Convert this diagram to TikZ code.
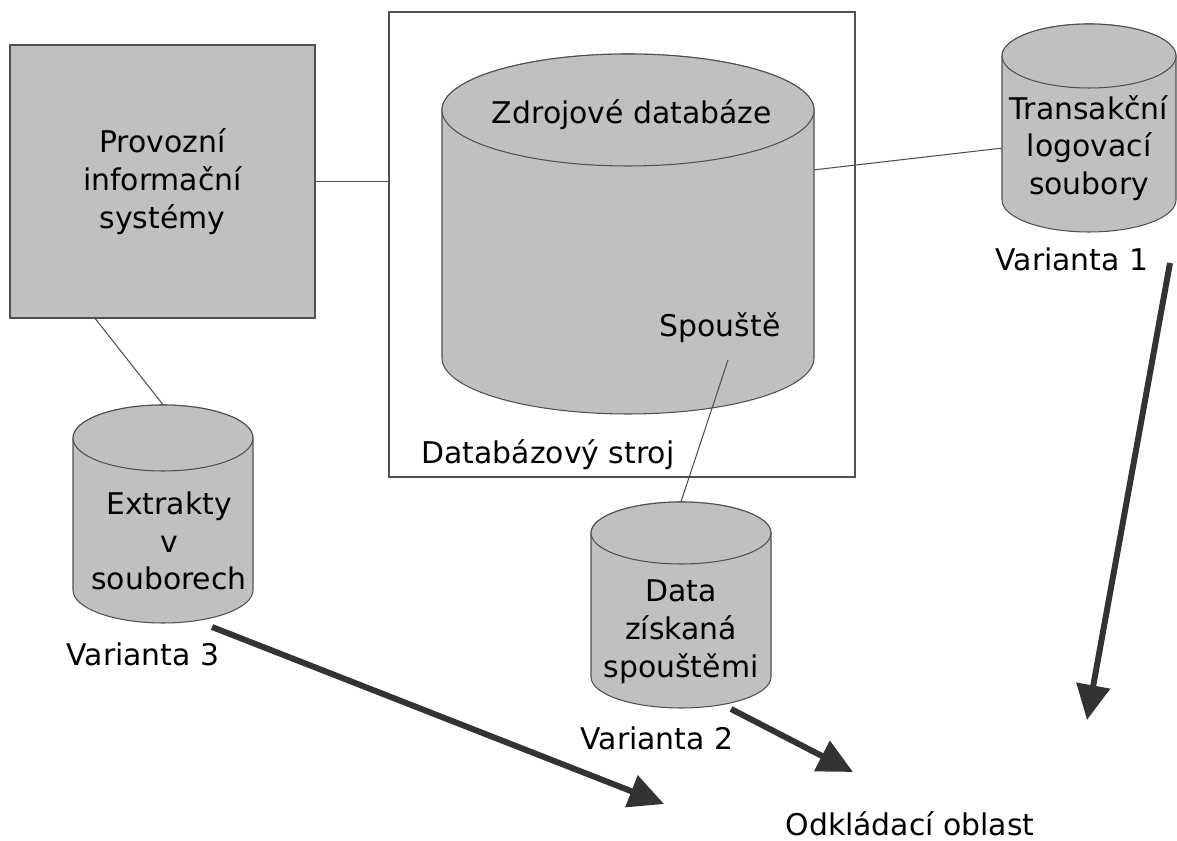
\documentclass[tikz,border=0pt]{standalone}
\usepackage{fontspec}
\setmainfont{DejaVu Sans}
\usetikzlibrary{arrows.meta}

\definecolor{boxgray}{HTML}{C0C0C0}
\definecolor{edgegray}{HTML}{505050}
\definecolor{arrowgray}{HTML}{333333}

\tikzset{
  lbl/.style={font=\fontsize{17}{21.5}\selectfont, align=center, inner sep=0pt},
  link/.style={draw=edgegray, line width=0.6pt},
  flow/.style={draw=arrowgray, line width=3.4pt,
    -{Triangle[length=0.7cm, width=0.66cm]}},
  dbbody/.style={fill=boxgray, draw=edgegray, line width=0.6pt}
}

% cylinder: name, centre x, top y, bottom y, x radius, y radius
\newcommand{\dbcyl}[6]{
  \filldraw[dbbody] (#2-#5,#3) -- (#2-#5,#4)
    arc[start angle=180, end angle=360, x radius=#5, y radius=#6]
    -- (#2+#5,#3)
    arc[start angle=0, end angle=180, x radius=#5, y radius=#6] -- cycle;
  \draw[dbbody] (#2,#3) ellipse[x radius=#5, y radius=#6];
  \node[inner sep=0pt, minimum width=2*#5*0.02cm,
    minimum height=(#3-#4+2*#6)*0.02cm] (#1) at (#2,{(#3+#4)/2}) {};
}

\begin{document}
\begin{tikzpicture}[x=0.02cm, y=0.02cm]
  \useasboundingbox (0,0) rectangle (1177,841);

  % database engine frame and the operational systems
  \node[draw=edgegray, line width=0.8pt, minimum width=9.32cm,
    minimum height=9.3cm] (engine) at (622,596.5) {};
  \node[fill=boxgray, draw=edgegray, line width=1.1pt, minimum width=6.1cm,
    minimum height=5.46cm, lbl] (sys) at (162.5,659.5)
    {Provozní\\informační\\systémy};

  % cylinders
  \dbcyl{srcdb}{628}{731}{483}{186}{56}
  \dbcyl{txlog}{1089}{785}{641}{87}{32}
  \dbcyl{extr}{163}{403}{251}{90}{33}
  \dbcyl{trigdata}{681}{308}{164}{90}{31}

  % texts
  \node[lbl] at (632,726) {Zdrojové databáze};
  \node[lbl] (trig) at (720,513) {Spouště};
  \node[lbl] at (548,386) {Databázový stroj};
  \node[lbl] at (1089,693) {Transakční\\logovací\\soubory};
  \node[lbl] (var1) at (1072,582) {Varianta 1};
  \node[lbl] at (169,300) {Extrakty\\v\\souborech};
  \node[lbl] (var3) at (143,187) {Varianta 3};
  \node[lbl] (trigtext) at (681,209) {Data\\získaná\\spouštěmi};
  \node[lbl] (var2) at (657,103) {Varianta 2};
  \node[lbl] (stage) at (910,17) {Odkládací oblast};

  % thin links
  \draw[link] (sys.east) -- (sys.east -| engine.west);
  \draw[link] (srcdb.19) -- (txlog.193);
  \draw[link] (sys.244) -- (extr.north);
  \coordinate (trigend) at (728,481);
  \draw[link] (trigend) -- (trigdata.north);

  % flows into the staging area
  \coordinate (v1start) at (1170,578);
  \coordinate (v1end) at (1087,121);
  \coordinate (v3start) at (212,214);
  \coordinate (v3end) at (664,37);
  \coordinate (v2start) at (731,132);
  \coordinate (v2end) at (853,69);
  \draw[flow] (v1start) -- (v1end);
  \draw[flow] (v3start) -- (v3end);
  \draw[flow] (v2start) -- (v2end);
\end{tikzpicture}
\end{document}
